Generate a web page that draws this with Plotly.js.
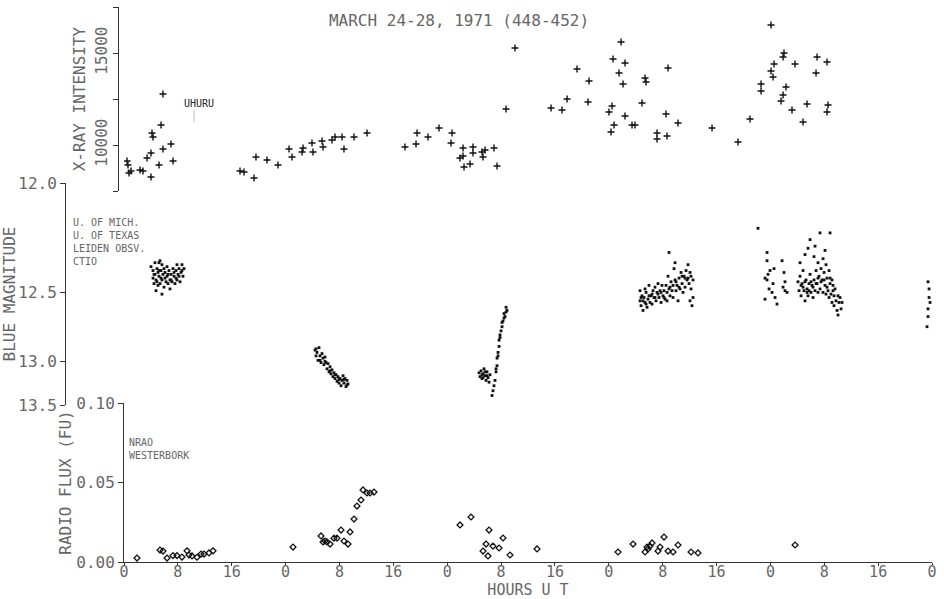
<!DOCTYPE html>
<html>
<head>
<meta charset="utf-8">
<script src="https://cdn.plot.ly/plotly-3.0.1.min.js"></script>
<style>
html,body{margin:0;padding:0;background:#fff;}
#chart{width:944px;height:599px;}
</style>
</head>
<body>
<div id="chart"></div>
<script>
// ---------- X-ray (UHURU) ----------
var xrayHours = [0.45,0.59,0.74,1.04,2.38,2.82,3.42,4.01,4.01,4.16,4.31,5.20,5.50,5.79,5.79,6.98,7.28,
  17.23,17.82,19.31,19.60,21.24,22.87,24.51,24.95,26.44,26.59,27.92,28.07,29.41,29.56,30.89,31.34,32.38,32.67,34.16,36.09,
  41.73,43.37,43.52,45.15,46.78,48.57,48.72,49.90,50.35,50.35,50.50,51.39,51.83,51.83,53.17,53.32,53.62,54.95,55.40,56.74,58.07,
  63.42,65.05,65.80,67.28,68.92,69.06,72.03,72.48,72.33,72.63,72.78,73.52,73.82,74.11,74.41,74.41,75.45,75.89,76.93,77.38,77.53,79.16,79.16,80.50,80.65,80.80,82.28,
  87.33,91.19,92.97,94.61,94.61,96.09,96.09,96.39,96.54,97.58,97.88,97.88,98.02,98.32,99.21,99.66,100.85,101.44,102.78,102.93,104.41,104.41,104.56];
var xrayCounts = [9130,8913,8478,8587,8641,8587,9293,9565,8261,10652,10435,8913,11087,9783,12772,10054,9130,
  8587,8533,8207,9348,9185,8913,9783,9348,9620,9837,10109,9620,10217,9891,10272,10435,10435,9783,10435,10652,
  9891,10054,10652,10435,10924,10109,10652,9293,9837,9402,8804,8967,9891,9565,9620,9348,9728,9837,8859,11957,15272,
  12011,11902,12500,14131,12337,13478,11793,12120,10707,14674,11087,13913,15598,13315,14457,11576,11087,11087,12283,13641,13424,10652,10326,11685,10489,14185,11196,
  10924,10163,11413,13315,12935,16522,14022,13696,14402,12391,14783,12717,15000,13152,11902,14402,11250,12228,13913,14783,14511,11793,12174];

// ---------- Blue magnitude (optical) ----------
var blueHours = [
  4.01,4.31,4.31,4.46,4.60,4.60,4.75,4.90,4.90,5.05,5.05,5.20,5.20,5.35,5.35,5.49,5.64,5.64,5.79,5.94,5.94,6.09,6.24,6.39,6.39,6.53,6.68,6.83,6.83,6.98,7.13,7.28,7.43,7.57,7.72,7.87,7.87,8.02,8.17,8.32,8.47,8.61,8.76,8.91,5.64,
  4.46,4.75,5.20,5.49,6.09,6.53,6.98,7.43,7.72,8.17,8.61,
  28.37,28.52,28.66,28.81,28.96,29.11,29.26,29.41,29.56,29.70,29.85,30.00,30.15,30.30,30.45,30.60,30.74,30.89,31.04,31.19,31.34,31.49,31.64,31.78,31.93,32.08,32.23,32.38,32.53,32.67,32.82,32.97,33.12,33.27,
  28.52,29.11,29.85,30.60,31.34,31.93,32.67,33.12,
  52.73,52.87,53.02,53.17,53.32,53.47,53.62,53.77,53.91,54.06,54.21,54.36,53.17,53.62,53.32,53.91,
  54.66,54.80,54.95,55.10,55.25,55.40,55.40,55.55,55.70,55.70,55.84,55.99,56.14,56.14,56.29,56.44,56.44,56.59,56.74,56.74,56.88,55.25,55.55,55.84,
  76.64,76.64,76.79,76.93,77.08,77.23,77.38,77.38,77.53,77.68,77.82,77.97,78.12,78.27,78.42,78.57,78.72,78.86,79.01,79.16,79.31,79.46,79.61,79.76,79.90,80.05,80.20,80.35,80.50,80.65,
  80.80,80.94,80.94,81.09,81.24,81.39,81.54,81.69,81.84,81.84,81.98,82.13,82.28,82.43,82.58,82.73,82.88,83.02,83.17,83.32,83.47,83.62,83.77,83.92,84.06,84.06,84.21,84.36,84.51,84.51,
  76.79,77.08,77.53,77.97,78.42,78.86,79.31,79.76,80.20,80.65,81.09,81.54,81.98,82.43,82.88,83.32,83.77,84.21,
  94.16,95.50,95.20,95.50,95.65,95.94,95.80,96.24,96.39,96.54,96.69,96.98,97.73,98.02,98.17,97.88,98.17,98.47,95.20,95.50,
  100.10,100.25,100.40,100.40,100.55,100.70,100.85,100.99,101.14,101.29,101.44,101.59,101.59,101.74,101.89,102.03,102.18,102.33,102.48,102.48,102.63,102.78,102.93,103.07,103.07,103.22,103.37,103.37,
  103.52,103.67,103.82,103.82,103.97,104.11,104.26,104.26,104.41,104.56,104.71,104.71,104.86,105.00,105.15,105.15,105.30,105.45,105.45,105.60,105.75,105.90,106.04,106.04,106.19,106.34,106.49,106.64,
  101.89,102.63,101.14,104.11,104.86,
  100.55,100.85,101.14,101.44,101.74,102.03,102.33,102.78,103.07,103.52,103.97,104.41,104.86,105.30,
  119.41,119.56,119.56,119.71,119.41,119.41,119.26];
var blueMag = [
  12.36,12.38,12.42,12.45,12.34,12.40,12.49,12.37,12.44,12.39,12.46,12.34,12.41,12.33,12.45,12.38,12.35,12.43,12.40,12.37,12.47,12.39,12.44,12.36,12.41,12.45,12.38,12.43,12.48,12.40,12.44,12.37,12.41,12.45,12.38,12.35,12.43,12.40,12.37,12.44,12.39,12.35,12.41,12.37,12.51,
  12.40,12.43,12.38,12.42,12.42,12.40,12.43,12.39,12.42,12.41,12.38,
  12.90,12.95,12.92,12.99,12.88,12.95,13.01,12.93,12.97,13.03,12.96,13.01,13.07,13.02,13.10,13.05,13.12,13.08,13.15,13.11,13.17,13.13,13.20,13.15,13.22,13.17,13.25,13.19,13.14,13.22,13.17,13.26,13.19,13.23,
  12.89,12.99,13.00,13.09,13.13,13.18,13.18,13.24,
  13.11,13.15,13.09,13.17,13.12,13.07,13.14,13.19,13.10,13.16,13.21,13.13,13.13,13.10,13.16,13.14,
  13.37,13.31,13.25,13.19,13.10,13.04,12.97,12.92,12.87,12.82,12.78,12.75,12.72,12.69,12.68,12.66,12.63,12.65,12.62,12.59,12.61,13.07,12.95,12.80,
  12.55,12.49,12.58,12.52,12.61,12.53,12.48,12.56,12.50,12.59,12.54,12.46,12.56,12.52,12.57,12.49,12.53,12.47,12.55,12.50,12.45,12.53,12.49,12.56,12.46,12.52,12.49,12.54,12.46,12.50,
  12.41,12.29,12.48,12.52,12.44,12.49,12.53,12.37,12.43,12.34,12.49,12.46,12.55,12.42,12.48,12.39,12.45,12.50,12.41,12.47,12.38,12.43,12.35,12.45,12.39,12.55,12.48,12.58,12.53,12.43,
  12.53,12.55,12.57,12.52,12.51,12.53,12.51,12.50,12.53,12.55,12.47,12.46,12.44,12.47,12.41,12.42,12.42,12.41,
  12.18,12.29,12.42,12.43,12.40,12.38,12.48,12.50,12.45,12.37,12.53,12.57,12.33,12.39,12.44,12.47,12.49,12.50,12.54,12.33,
  12.44,12.49,12.34,12.41,12.52,12.45,12.38,12.49,12.55,12.43,12.48,12.27,12.52,12.45,12.40,12.50,12.46,12.53,12.31,12.43,12.49,12.38,12.45,12.34,12.50,12.41,12.20,12.48,
  12.37,12.43,12.32,12.50,12.39,12.46,12.35,12.51,12.42,12.49,12.38,12.53,12.45,12.51,12.43,12.56,12.49,12.58,12.52,12.48,12.55,12.61,12.52,12.64,12.56,12.53,12.60,12.56,
  12.23,12.26,12.30,12.28,12.20,
  12.46,12.47,12.44,12.50,12.49,12.44,12.47,12.45,12.42,12.44,12.43,12.47,12.42,12.46,
  12.44,12.48,12.53,12.56,12.60,12.65,12.72];
var magTicks = [12.0, 12.5, 13.0, 13.5];
var magTickText = ["12.0", "12.5", "13.0", "13.5"];

// ---------- Radio flux (NRAO / Westerbork) ----------
var radioHours = [1.93,5.35,5.79,6.39,7.28,7.87,8.61,9.36,9.65,10.10,10.84,11.44,11.88,12.62,13.22,25.10,
  29.26,29.56,29.85,30.15,30.60,31.19,31.64,32.23,32.67,33.27,33.57,34.16,34.60,35.20,35.50,36.09,36.54,37.13,
  49.90,51.54,54.21,53.77,53.32,54.06,54.80,55.70,56.29,57.33,61.34,
  73.37,75.60,77.38,77.68,77.82,78.42,78.12,79.31,79.61,80.20,80.80,81.54,82.28,84.21,85.25,99.66];
var radioFlux = [0.0025,0.0075,0.0069,0.0025,0.0040,0.0040,0.0031,0.0070,0.0044,0.0038,0.0030,0.0050,0.0050,0.0057,0.0070,0.0094,
  0.0164,0.0126,0.0132,0.0126,0.0113,0.0150,0.0150,0.0201,0.0132,0.0113,0.0189,0.0270,0.0352,0.0390,0.0453,0.0434,0.0434,0.0440,
  0.0233,0.0283,0.0201,0.0113,0.0069,0.0038,0.0100,0.0088,0.0151,0.0044,0.0082,
  0.0063,0.0113,0.0063,0.0094,0.0082,0.0120,0.0100,0.0069,0.0094,0.0157,0.0069,0.0063,0.0107,0.0063,0.0057,0.0107];

// ---------- Time axis ----------
var hourTicks = [0,8,16,24,32,40,48,56,64,72,80,88,96,104,112,120];
var hourTickText = ["0","8","16","0","8","16","0","8","16","0","8","16","0","8","16","0"];

var toFlux = function (m) { return Math.pow(10, -0.4 * (m - 12)); };

var FONT = "DejaVu Sans Mono, monospace";
var TXT = "#666";
var LINE = "#333";

var traces = [
  {type: "scatter", mode: "markers", name: "X-ray", x: xrayHours, y: xrayCounts, xaxis: "x", yaxis: "y",
   marker: {symbol: "cross-thin", size: 5, color: "#111", line: {color: "#111", width: 1.4}}},
  {type: "scatter", mode: "markers", name: "Blue magnitude", x: blueHours, y: blueMag.map(toFlux), xaxis: "x", yaxis: "y2",
   marker: {symbol: "square", size: 2.8, color: "#111"}},
  {type: "scatter", mode: "markers", name: "Radio flux", x: radioHours, y: radioFlux, xaxis: "x", yaxis: "y3",
   marker: {symbol: "diamond-open", size: 4.5, color: "#111", line: {color: "#111", width: 1.3}}}
];

var W = 944, H = 599, ML = 65, MR = 12, MT = 7, MB = 37;
var PW = W - ML - MR, PH = H - MT - MB;
function px(x) { return (x - ML) / PW; }
function py(y) { return (H - MB - y) / PH; }

var axisCommon = {
  showgrid: false, zeroline: false, showline: true, linecolor: LINE, linewidth: 1,
  ticks: "outside", ticklen: 5, tickwidth: 1, tickcolor: LINE,
  tickfont: {family: FONT, size: 16, color: TXT}
};

var layout = {
  width: W, height: H,
  margin: {l: ML, r: MR, t: MT, b: MB},
  paper_bgcolor: "#fff", plot_bgcolor: "#fff",
  showlegend: false, hovermode: false,
  font: {family: FONT, color: TXT},
  title: {text: "MARCH 24-28, 1971 (448-452)", font: {family: FONT, size: 16, color: TXT},
          x: 459 / W, xref: "container", xanchor: "center", y: 1 - 20 / H, yref: "container", yanchor: "middle"},
  xaxis: Object.assign({}, axisCommon, {
    domain: [px(124), 1], range: [0, 120], anchor: "y3",
    tickmode: "array", tickvals: hourTicks, ticktext: hourTickText,
    ticklen: 3,
    tickfont: {family: FONT, size: 15, color: TXT}, ticklabelstandoff: -7,
    title: {text: "HOURS U T", font: {family: FONT, size: 15, color: TXT}, standoff: 6}
  }),
  yaxis: Object.assign({}, axisCommon, {
    domain: [py(191), 1], range: [7500, 17500], anchor: "free", position: px(118),
    tickmode: "array", tickvals: [7500, 10000, 12500, 15000, 17500], ticktext: ["", "10000", "", "15000", ""],
    tickangle: -90,
    title: {text: "X-RAY INTENSITY", font: {family: FONT, size: 16, color: TXT}, standoff: 0}
  }),
  yaxis2: Object.assign({}, axisCommon, {
    domain: [py(405), py(183)], range: [toFlux(13.5), toFlux(12.0)], anchor: "free", position: 0,
    tickmode: "array", tickvals: magTicks.map(toFlux), ticktext: magTickText,
    title: {text: "BLUE MAGNITUDE", font: {family: FONT, size: 16, color: TXT}, standoff: 2}
  }),
  yaxis3: Object.assign({}, axisCommon, {
    domain: [0, py(403)], range: [0, 0.10], anchor: "x",
    tickmode: "array", tickvals: [0, 0.05, 0.10], ticktext: ["0.00", "0.05", "0.10"],
    title: {text: "RADIO FLUX (FU)", font: {family: FONT, size: 16, color: TXT}, standoff: 0}
  }),
  annotations: [
    {text: "UHURU", xref: "paper", yref: "paper", x: px(182), y: py(103), xanchor: "left", yanchor: "middle",
     showarrow: false, font: {family: FONT, size: 10, color: "#222"}},
    {text: "U. OF MICH.<br>U. OF TEXAS<br>LEIDEN OBSV.<br>CTIO", xref: "paper", yref: "paper", x: px(71), y: py(242),
     xanchor: "left", yanchor: "middle", align: "left", showarrow: false, font: {family: FONT, size: 10, color: TXT}},
    {text: "NRAO<br>WESTERBORK", xref: "paper", yref: "paper", x: px(127), y: py(449),
     xanchor: "left", yanchor: "middle", align: "left", showarrow: false, font: {family: FONT, size: 10, color: TXT}}
  ],
  shapes: [
    {type: "line", xref: "paper", yref: "paper", x0: px(194), x1: px(194), y0: py(110), y1: py(122),
     line: {color: "#bbb", width: 1}}
  ]
};

Plotly.newPlot("chart", traces, layout, {staticPlot: true, displayModeBar: false});
</script>
</body>
</html>
